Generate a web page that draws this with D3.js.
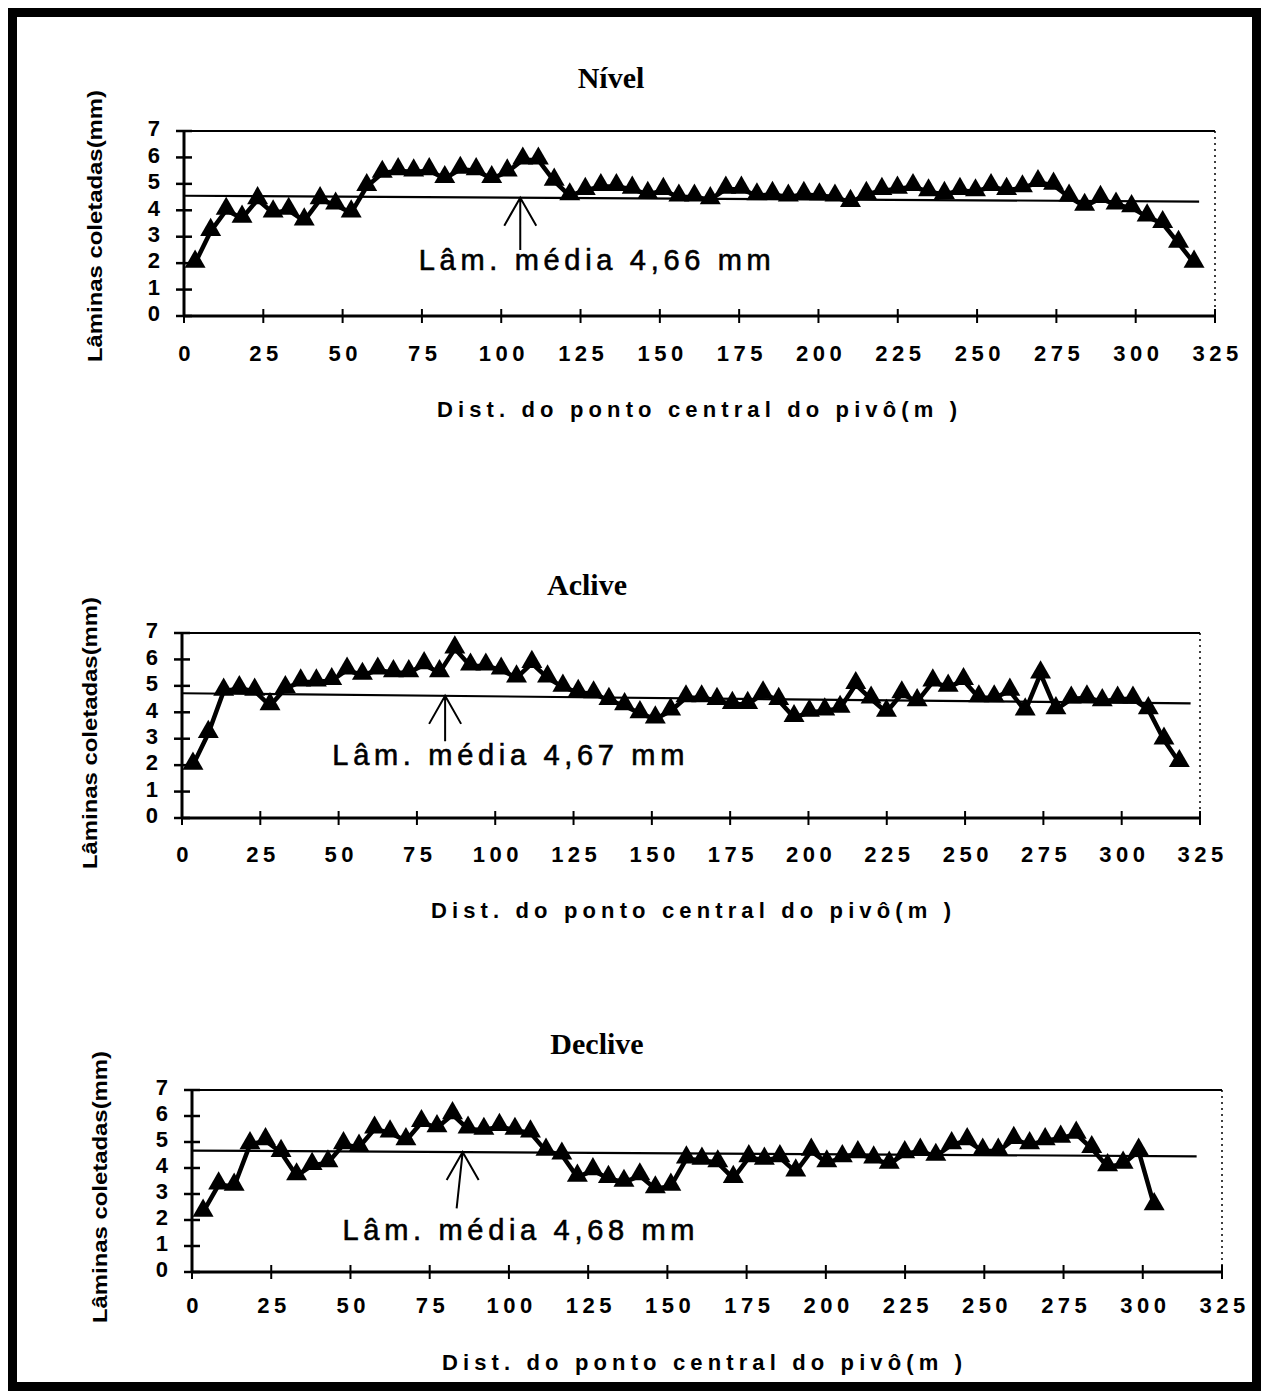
<!DOCTYPE html>
<html>
<head>
<meta charset="utf-8">
<script src="https://cdn.jsdelivr.net/npm/d3@7"></script>
<style>
body { margin: 0; background: #fff; }
svg text { fill: #000; }
</style>
</head>
<body>
<div id="chart"></div>
<script>

// distancias dos coletores ao ponto central (m)
const distancias = [3.5, 8.4, 13.3, 18.3, 23.2, 28.1, 33, 37.9, 42.9, 47.8,
    52.7, 57.6, 62.5, 67.5, 72.4, 77.3, 82.2, 87.1, 92.1, 97,
    101.9, 106.8, 111.7, 116.7, 121.6, 126.5, 131.4, 136.3, 141.3, 146.2,
    151.1, 156, 160.9, 165.9, 170.8, 175.7, 180.6, 185.5, 190.5, 195.4,
    200.3, 205.2, 210.1, 215.1, 220, 224.9, 229.8, 234.7, 239.7, 244.6,
    249.5, 254.4, 259.3, 264.3, 269.2, 274.1, 279, 283.9, 288.9, 293.8,
    298.7, 303.6, 308.5, 313.5, 318.4]

// laminas coletadas (mm)
const laminaNivel = [2.0, 3.2, 4.0, 3.7, 4.4, 3.9, 4.0, 3.6, 4.4, 4.2,
    3.9, 4.9, 5.4, 5.5, 5.45, 5.5, 5.2, 5.55, 5.5, 5.2,
    5.45, 5.9, 5.9, 5.1, 4.55, 4.75, 4.9, 4.9, 4.8, 4.6,
    4.75, 4.5, 4.5, 4.4, 4.8, 4.8, 4.55, 4.6, 4.5, 4.6,
    4.55, 4.5, 4.3, 4.6, 4.75, 4.8, 4.9, 4.7, 4.6, 4.75,
    4.7, 4.9, 4.75, 4.85, 5.05, 4.95, 4.5, 4.15, 4.45, 4.2,
    4.1, 3.75, 3.5, 2.75, 2.0]

const laminaAclive = [2.0, 3.2, 4.8, 4.9, 4.8, 4.25, 4.9, 5.15, 5.15, 5.2,
    5.6, 5.4, 5.6, 5.5, 5.5, 5.8, 5.5, 6.4, 5.75, 5.75,
    5.6, 5.3, 5.85, 5.3, 4.95, 4.75, 4.7, 4.45, 4.25, 3.95,
    3.75, 4.05, 4.55, 4.55, 4.45, 4.3, 4.3, 4.7, 4.45, 3.8,
    4.0, 4.05, 4.15, 5.05, 4.5, 4.0, 4.7, 4.4, 5.15, 4.95,
    5.2, 4.55, 4.55, 4.8, 4.05, 5.45, 4.1, 4.5, 4.55, 4.4,
    4.5, 4.5, 4.1, 2.95, 2.1]

const laminaDeclive = [2.3, 3.35, 3.3, 4.9, 5.05, 4.6, 3.7, 4.1, 4.2, 4.9,
    4.8, 5.5, 5.35, 5.05, 5.75, 5.55, 6.05, 5.5, 5.45, 5.6,
    5.45, 5.35, 4.65, 4.5, 3.65, 3.9, 3.6, 3.45, 3.7, 3.2,
    3.3, 4.35, 4.3, 4.2, 3.6, 4.4, 4.3, 4.4, 3.85, 4.65,
    4.2, 4.4, 4.55, 4.35, 4.15, 4.55, 4.65, 4.45, 4.9, 5.05,
    4.65, 4.65, 5.1, 4.9, 5.05, 5.15, 5.3, 4.75, 4.05, 4.15,
    4.65, 2.55]

// linha da lamina media: [distancia, lamina] nas duas pontas
const linhaNivel = [[0, 4.55], [320, 4.33]]
const linhaAclive = [[0, 4.72], [322, 4.34]]
const linhaDeclive = [[0, 4.67], [317, 4.45]]

// seta: distancia da ponta, distancia da base, lamina da base
const setaPonta = [106, 84, 85.4]
const setaBase = [106, 84, 83.5]
const setaBaseY = [2.5, 2.9, 2.45]

const xTicks = [0, 25, 50, 75, 100, 125, 150, 175, 200, 225, 250, 275, 300, 325]
const yTicks = [0, 1, 2, 3, 4, 5, 6, 7]

const titulos = ["Nível", "Aclive", "Declive"]
const mediaTextos = ["Lâm. média 4,66 mm", "Lâm. média 4,67 mm", "Lâm. média 4,68 mm"]
const yTitulo = "Lâminas coletadas(mm)"
const xTitulo = "Dist. do ponto central do pivô(m )"


const sans = '"Liberation Sans", Arial, sans-serif'
const serif = '"Liberation Serif", "Times New Roman", serif'

// layout of each panel (pixels); txtX / txtY are in data units
const panels = [
    { left: 184, right: 1215, top: 131, bottom: 316, titleX: 611, titleY: 88,
      yLabX: 102, yLabY: 226, xTitX: 697, xTitY: 417, xPad: 33, txtX: 74, txtY: 1.74 },
    { left: 182, right: 1200, top: 633, bottom: 818, titleX: 587, titleY: 595,
      yLabX: 97, yLabY: 733, xTitX: 691, xTitY: 918, xPad: 32, txtX: 48, txtY: 2.0 },
    { left: 192, right: 1222, top: 1090, bottom: 1272, titleX: 597, titleY: 1054,
      yLabX: 107, yLabY: 1187, xTitX: 702, xTitY: 1370, xPad: 29, txtX: 47.5, txtY: 1.23 }
]

const series = [
    { dist: distancias, lam: laminaNivel, linha: linhaNivel },
    { dist: distancias, lam: laminaAclive, linha: linhaAclive },
    { dist: distancias.slice(0, laminaDeclive.length), lam: laminaDeclive, linha: linhaDeclive }
]

const svg = d3.select('#chart').append('svg').attr('width', 1269).attr('height', 1398)

svg.append('rect').attr('width', 1269).attr('height', 1398).attr('fill', '#fff')

// moldura externa
svg.append('rect')
    .attr('x', 12.5).attr('y', 12.5)
    .attr('width', 1244).attr('height', 1374)
    .attr('fill', 'none')
    .attr('stroke', '#000')
    .attr('stroke-width', 9)


series.forEach(function (s, k) {

    const p = panels[k]
    const x = d3.scaleLinear().domain([0, 325]).range([p.left, p.right])
    const y = d3.scaleLinear().domain([0, 7]).range([p.bottom, p.top])
    const g = svg.append('g')

    // titulo
    g.append('text')
        .attr('x', p.titleX).attr('y', p.titleY)
        .attr('text-anchor', 'middle')
        .attr('font-family', serif)
        .attr('font-weight', 'bold')
        .attr('font-size', 30)
        .text(titulos[k])

    // borda superior e borda direita pontilhada
    g.append('line')
        .attr('x1', x(0)).attr('x2', x(325))
        .attr('y1', y(7)).attr('y2', y(7))
        .attr('stroke', '#000').attr('stroke-width', 2)

    g.append('line')
        .attr('x1', x(325)).attr('x2', x(325))
        .attr('y1', y(7)).attr('y2', y(0))
        .attr('stroke', '#000').attr('stroke-width', 1.5)
        .attr('stroke-dasharray', '2 4')

    // eixos
    g.append('line')
        .attr('x1', x(0)).attr('x2', x(0))
        .attr('y1', y(7) - 1).attr('y2', y(0) + 1)
        .attr('stroke', '#000').attr('stroke-width', 3)

    g.append('line')
        .attr('x1', x(0) - 1).attr('x2', x(325) + 1)
        .attr('y1', y(0)).attr('y2', y(0))
        .attr('stroke', '#000').attr('stroke-width', 3)

    g.selectAll('line.yt')
        .data(yTicks)
        .enter()
        .append('line')
        .attr('class', 'yt')
        .attr('x1', x(0) - 8).attr('x2', x(0) + 8)
        .attr('y1', d => y(d)).attr('y2', d => y(d))
        .attr('stroke', '#000').attr('stroke-width', 2.5)

    g.selectAll('line.xt')
        .data(xTicks)
        .enter()
        .append('line')
        .attr('class', 'xt')
        .attr('x1', d => x(d)).attr('x2', d => x(d))
        .attr('y1', y(0) - 7).attr('y2', y(0) + 7)
        .attr('stroke', '#000').attr('stroke-width', 2)

    // rotulos dos ticks
    const axisX = d3.axisBottom(x).tickValues(xTicks).tickSize(0).tickPadding(p.xPad)
    const gx = g.append('g')
        .attr('transform', `translate(0,${p.bottom})`)
        .call(axisX)
    gx.select('.domain').remove()
    gx.attr('font-family', sans).attr('font-size', 22).attr('font-weight', 'bold')
    gx.selectAll('text').attr('letter-spacing', 4.5).attr('dx', 2.2).attr('dy', '0.55em')

    const axisY = d3.axisLeft(y).tickValues(yTicks).tickFormat(d3.format('d')).tickSize(0).tickPadding(24)
    const gy = g.append('g')
        .attr('transform', `translate(${p.left},0)`)
        .call(axisY)
    gy.select('.domain').remove()
    gy.attr('font-family', sans).attr('font-size', 22).attr('font-weight', 'bold')
    gy.selectAll('text').attr('dy', '0.22em')

    // titulos dos eixos
    g.append('text')
        .attr('transform', `translate(${p.yLabX},${p.yLabY}) rotate(-90)`)
        .attr('text-anchor', 'middle')
        .attr('font-family', sans)
        .attr('font-weight', 'bold')
        .attr('font-size', 20)
        .attr('textLength', 272)
        .attr('lengthAdjust', 'spacingAndGlyphs')
        .text(yTitulo)

    g.append('text')
        .attr('x', p.xTitX).attr('y', p.xTitY)
        .attr('text-anchor', 'middle')
        .attr('font-family', sans)
        .attr('font-weight', 'bold')
        .attr('font-size', 22)
        .attr('textLength', 520)
        .attr('lengthAdjust', 'spacing')
        .text(xTitulo)

    // linha da lamina media
    const linhaGen = d3.line().x(d => x(d[0])).y(d => y(d[1]))
    g.append('path')
        .datum(s.linha)
        .attr('d', linhaGen)
        .attr('fill', 'none')
        .attr('stroke', '#000')
        .attr('stroke-width', 2.2)

    // serie de laminas
    const pontos = s.dist.map((d, i) => ({ dist: d, lam: s.lam[i] }))

    g.append('path')
        .datum(pontos)
        .attr('d', d3.line().x(d => x(d.dist)).y(d => y(d.lam)))
        .attr('fill', 'none')
        .attr('stroke', '#000')
        .attr('stroke-width', 4.5)
        .attr('stroke-linejoin', 'round')

    g.selectAll('path.tri')
        .data(pontos)
        .enter()
        .append('path')
        .attr('class', 'tri')
        .attr('d', d3.symbol().type(d3.symbolTriangle).size(190))
        .attr('transform', d => `translate(${x(d.dist)},${y(d.lam) - 1.5})`)
        .attr('fill', '#000')

    // seta apontando a linha media
    const linhaEm = d3.scaleLinear()
        .domain([s.linha[0][0], s.linha[1][0]])
        .range([s.linha[0][1], s.linha[1][1]])
    const px = x(setaPonta[k])
    const py = y(linhaEm(setaPonta[k]))
    const bx = x(setaBase[k])
    const by = y(setaBaseY[k])

    g.append('path')
        .attr('d', `M${px - 16},${py + 28}L${px},${py}L${px + 16},${py + 28}M${px},${py}L${bx},${by}`)
        .attr('fill', 'none')
        .attr('stroke', '#000')
        .attr('stroke-width', 2)

    g.append('text')
        .attr('x', x(p.txtX)).attr('y', y(p.txtY))
        .attr('font-family', sans)
        .attr('font-size', 29)
        .attr('stroke', '#000')
        .attr('stroke-width', 0.6)
        .attr('textLength', 352)
        .attr('lengthAdjust', 'spacing')
        .text(mediaTextos[k])

})

</script>
</body>
</html>
